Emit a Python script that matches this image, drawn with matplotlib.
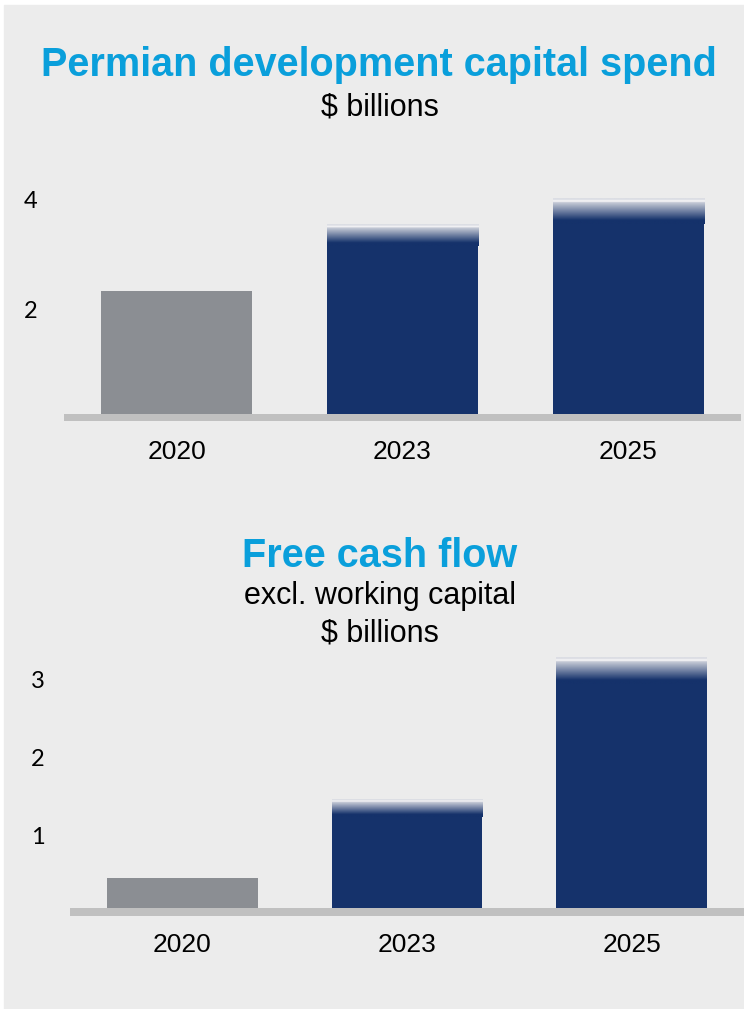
import numpy as np
import matplotlib.pyplot as plt
import matplotlib.transforms as mtransforms
from matplotlib.colors import LinearSegmentedColormap

# ================================================================
# DATA ($ billions)
# ================================================================
years = ['2020', '2023', '2025']

capex_base = [2.24, 3.05, 3.45]      # solid part of bar
capex_high = [None, 3.45, 3.91]      # top of faded range
capex_ticks = [2, 4]

fcf_base = [0.38, 1.17, 2.87]
fcf_high = [None, 1.40, 3.21]
fcf_ticks = [1, 2, 3]

# ================================================================
# STYLE
# ================================================================
W, H, DPI = 744, 1009, 100
NAVY = '#15326b'
GREY_BAR = '#8b8e93'
BASE_LINE = '#c0c0c0'
BG = '#ececec'
BLUE = '#0a9fdb'
ARIAL = 'Liberation Sans'

bar_colors = [GREY_BAR, NAVY, NAVY]
fade = LinearSegmentedColormap.from_list('fade', [
    (0.00, NAVY), (0.15, NAVY), (0.84, '#c9cdd8'), (0.86, '#f2f2f4'),
    (0.92, '#f2f2f4'), (0.93, '#dcdee4'), (1.00, '#dcdee4')])

fig = plt.figure(figsize=(W / DPI, H / DPI), dpi=DPI, facecolor='white')
fig.patches.append(plt.Rectangle((4 / W, 0), 1, 1 - 5 / H, transform=fig.transFigure,
                                 color=BG, zorder=-10))


def panel(left, right, zero_px, scale, ymax, base_h, base, high, ticks,
          tick_x_pad, year_pad):
    # axes placed in pixel units so that 1 unit = `scale` px
    y_lo = -base_h / scale
    bottom_px = zero_px + base_h
    top_px = zero_px - ymax * scale
    ax = fig.add_axes([left / W, 1 - bottom_px / H, (right - left) / W,
                       (bottom_px - top_px) / H])
    ax.patch.set_alpha(0)
    x = np.arange(len(years))
    w = 0.67
    ax.axhspan(y_lo, 0, color=BASE_LINE, zorder=1, lw=0)
    ax.bar(x, base, width=w, color=bar_colors, zorder=2, lw=0)
    grad = np.linspace(0, 1, 256).reshape(-1, 1)
    for i, hi in enumerate(high):
        if hi is None:
            continue
        ax.imshow(grad, extent=[x[i] - w / 2, x[i] + w / 2, base[i], hi],
                  origin='lower', aspect='auto', cmap=fade, zorder=2,
                  interpolation='bilinear')
    ax.set_xlim(-0.5, len(years) - 0.5)
    ax.set_ylim(y_lo, ymax)
    for s in ax.spines.values():
        s.set_visible(False)
    ax.set_xticks(x, years)
    ax.tick_params(axis='x', length=0, pad=year_pad, labelsize=19)
    for lbl in ax.get_xticklabels():
        lbl.set_family(ARIAL)
    ax.set_yticks(ticks, [str(t) for t in ticks])
    ax.tick_params(axis='y', length=0, pad=tick_x_pad, labelsize=17)
    off = mtransforms.ScaledTranslation(0, -6 / DPI, fig.dpi_scale_trans)
    for lbl in ax.get_yticklabels():
        lbl.set_family(['Lato', 'DejaVu Sans'])
        lbl.set_transform(lbl.get_transform() + off)
    return ax


panel(64, 741, 414, 55, 4.4, 7, capex_base, capex_high, capex_ticks, 19, 14)
panel(70, 744, 908, 78, 3.5, 8, fcf_base, fcf_high, fcf_ticks, 18, 12)

# ================================================================
# TITLES
# ================================================================
def ftext(x, y, s, **kw):
    fig.text(x / W, 1 - y / H, s, ha='center', va='baseline', family=ARIAL, **kw)

ftext(379, 76, 'Permian development capital spend', fontsize=28.5, weight='bold', color=BLUE)
ftext(380, 116, '$ billions', fontsize=22, color='black')
ftext(380, 567, 'Free cash flow', fontsize=28.5, weight='bold', color=BLUE)
ftext(380, 604, 'excl. working capital', fontsize=22, color='black')
ftext(380, 642, '$ billions', fontsize=22, color='black')

fig.savefig('out.png', dpi=DPI, facecolor=fig.get_facecolor())
